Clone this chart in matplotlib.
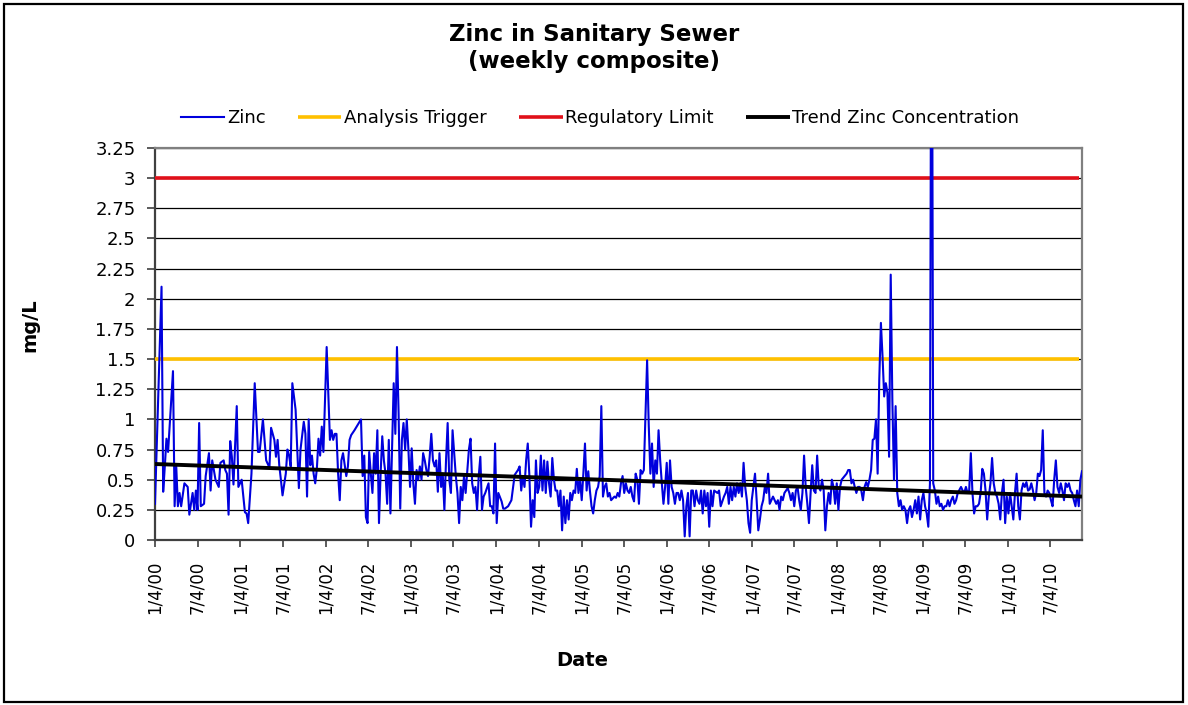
import numpy as np
import pandas as pd
import matplotlib
matplotlib.use("Agg")
import matplotlib.pyplot as plt
from matplotlib.patches import Rectangle

# ---------------- data ----------------
start_date = "2000-01-04"          # first weekly composite
end_week = 567                     # last week shown on the axis

# week index (weeks after start) and zinc concentration (mg/L), by period
weeks_a = [0, 4, 5, 6, 7, 8, 11, 12, 13, 14, 15, 16, 18, 20, 21, 23, 24, 25, 26, 27, 28, 30, 31,
           33, 34, 35, 37, 39, 40, 42, 43, 44, 45, 46, 47, 48, 50, 51, 53, 55, 56, 57, 59, 61,
           63, 64, 66, 68, 70]
zinc_a = [0.30, 2.10, 0.40, 0.61, 0.84, 0.73, 1.40, 0.28, 0.61, 0.28, 0.39, 0.28, 0.47, 0.44,
          0.21, 0.39, 0.25, 0.41, 0.25, 0.97, 0.28, 0.30, 0.53, 0.72, 0.41, 0.66, 0.50, 0.44,
          0.64, 0.66, 0.58, 0.55, 0.21, 0.82, 0.69, 0.46, 1.11, 0.44, 0.50, 0.23, 0.22, 0.14,
          0.55, 1.30, 0.73, 0.73, 1.00, 0.66, 0.60]

weeks_b = [71, 73, 74, 75, 76, 77, 78, 80, 81, 82, 83, 84, 86, 87, 88, 89, 91, 92, 93, 94, 95,
           96, 97, 98, 99, 100, 101, 102, 103, 105, 107, 108, 109, 110, 111, 112, 113, 114, 115,
           117, 118, 119, 120, 122, 126, 127, 128, 129, 130, 131, 132, 133, 134, 135, 136, 137, 138]
zinc_b = [0.93, 0.83, 0.69, 0.83, 0.62, 0.50, 0.37, 0.55, 0.75, 0.70, 0.61, 1.30, 1.08, 0.75,
          0.43, 0.75, 0.98, 0.88, 0.36, 1.00, 0.62, 0.70, 0.55, 0.47, 0.59, 0.84, 0.70, 0.94,
          0.73, 1.60, 0.83, 0.91, 0.83, 0.88, 0.88, 0.55, 0.33, 0.66, 0.72, 0.53, 0.61, 0.83,
          0.87, 0.91, 1.00, 0.53, 0.70, 0.19, 0.14, 0.73, 0.55, 0.39, 0.72, 0.55, 0.91, 0.14, 0.55]

weeks_c = (list(range(139, 145)) + list(range(146, 183)) + list(range(184, 191))
           + list(range(192, 203)) + list(range(204, 210)))
zinc_c = [0.86, 0.66, 0.55, 0.30, 0.83, 0.22, 1.30, 0.88, 1.60, 1.05, 0.26, 0.83, 0.97, 0.75,
          1.00, 0.75, 0.44, 0.76, 0.47, 0.30, 0.58, 0.50, 0.61, 0.50, 0.72, 0.66, 0.58, 0.53,
          0.69, 0.88, 0.66, 0.61, 0.66, 0.40, 0.72, 0.44, 0.55, 0.25, 0.66, 0.97, 0.50, 0.39,
          0.91, 0.53, 0.39, 0.14, 0.44, 0.33, 0.53, 0.39, 0.75, 0.84, 0.47, 0.39, 0.44, 0.25,
          0.53, 0.69, 0.25, 0.36, 0.39, 0.47, 0.28, 0.28, 0.22, 0.80, 0.14]

weeks_d = [210, 212, 213, 214, 216, 218, 220] + list(range(222, 280))
zinc_d = [0.39, 0.32, 0.26, 0.26, 0.28, 0.33, 0.54,
          0.58, 0.61, 0.41, 0.53, 0.44, 0.66, 0.80, 0.53, 0.11, 0.33, 0.19, 0.66, 0.39, 0.44,
          0.70, 0.41, 0.66, 0.39, 0.65, 0.47, 0.36, 0.68, 0.50, 0.41, 0.41, 0.28, 0.41, 0.08,
          0.36, 0.14, 0.33, 0.17, 0.39, 0.33, 0.41, 0.39, 0.59, 0.39, 0.50, 0.33, 0.55, 0.80,
          0.41, 0.57, 0.41, 0.28, 0.22, 0.33, 0.41, 0.44, 0.53, 1.11, 0.36, 0.44, 0.47, 0.36,
          0.39, 0.33]

weeks_e = list(range(281, 300)) + [301] + list(range(302, 343)) + [344, 345, 346, 348, 349, 350]
zinc_e = [0.36, 0.35, 0.39, 0.36, 0.47, 0.53, 0.39, 0.47, 0.41, 0.39, 0.44, 0.36, 0.32, 0.55,
          0.50, 0.30, 0.58, 0.55, 0.58,
          1.49,
          0.95, 0.55, 0.80, 0.44, 0.66, 0.55, 0.91, 0.66, 0.47, 0.30, 0.44, 0.64, 0.30, 0.66,
          0.44, 0.39, 0.30, 0.39, 0.39, 0.33, 0.41, 0.33, 0.03, 0.28, 0.39, 0.03, 0.41, 0.41,
          0.28, 0.41, 0.33, 0.30, 0.41, 0.22, 0.41, 0.28, 0.39, 0.11, 0.41, 0.28, 0.41,
          0.39, 0.41, 0.28, 0.36, 0.39, 0.44]

weeks_f = list(range(351, 377)) + list(range(378, 421))
zinc_f = [0.30, 0.44, 0.33, 0.44, 0.36, 0.47, 0.39, 0.47, 0.36, 0.64, 0.44, 0.33, 0.14, 0.06,
          0.33, 0.44, 0.55, 0.33, 0.08, 0.17, 0.28, 0.33, 0.44, 0.39, 0.55, 0.30,
          0.36, 0.33, 0.30, 0.33, 0.25, 0.36, 0.33, 0.39, 0.41, 0.43, 0.39, 0.33, 0.39, 0.28,
          0.41, 0.44, 0.33, 0.25, 0.39, 0.70, 0.44, 0.30, 0.14, 0.39, 0.62, 0.41, 0.39, 0.70,
          0.44, 0.41, 0.50, 0.41, 0.08, 0.28, 0.39, 0.30, 0.50, 0.44, 0.30, 0.47, 0.25, 0.44, 0.50]

weeks_g = list(range(423, 439)) + list(range(439, 475)) + [475] + list(range(476, 492))
zinc_g = [0.55, 0.58, 0.58, 0.47, 0.50, 0.44, 0.39, 0.44, 0.44, 0.41, 0.33, 0.44, 0.48, 0.44,
          0.50, 0.58,
          0.83, 0.84, 1.00, 0.55, 1.33, 1.80, 1.52, 1.19, 1.30, 1.22, 0.69, 2.20, 1.16, 0.50,
          1.11, 0.39, 0.28, 0.33, 0.25, 0.28, 0.25, 0.14, 0.25, 0.28, 0.19, 0.25, 0.33, 0.22,
          0.36, 0.17, 0.33, 0.39, 0.28, 0.22, 0.11, 0.47,
          6.00,
          0.47, 0.41, 0.30, 0.36, 0.28, 0.30, 0.25, 0.28, 0.28, 0.33, 0.28, 0.33, 0.36, 0.30,
          0.33, 0.39]

weeks_h = list(range(493, 568))
zinc_h = [0.44, 0.41, 0.39, 0.44, 0.39, 0.41, 0.72, 0.39, 0.22, 0.28,
          0.28, 0.30, 0.39, 0.59, 0.55, 0.41, 0.17, 0.36, 0.47, 0.68,
          0.47, 0.39, 0.36, 0.30, 0.17, 0.39, 0.50, 0.14, 0.36, 0.22,
          0.39, 0.28, 0.17, 0.39, 0.55, 0.28, 0.17, 0.41, 0.47, 0.44,
          0.48, 0.41, 0.42, 0.47, 0.41, 0.33, 0.39, 0.55, 0.53, 0.58,
          0.91, 0.39, 0.36, 0.41, 0.39, 0.33, 0.28, 0.50, 0.66, 0.44,
          0.39, 0.47, 0.41, 0.33, 0.47, 0.44, 0.47, 0.41, 0.39, 0.33,
          0.28, 0.41, 0.28, 0.50, 0.57]

# reference series
threshold_weeks = [0, 565]
analysis_trigger = [1.5, 1.5]
regulatory_limit = [3.0, 3.0]
trend_weeks = [0, 567]
trend_values = [0.63, 0.36]

title_lines = ["Zinc in Sanitary Sewer", "(weekly composite)"]
legend_labels = ["Zinc", "Analysis Trigger", "Regulatory Limit", "Trend Zinc Concentration"]
tick_years = list(range(2000, 2011))
y_ticks = [0, 0.25, 0.5, 0.75, 1, 1.25, 1.5, 1.75, 2, 2.25, 2.5, 2.75, 3, 3.25]

# ---------------- build ----------------
weeks = np.concatenate([weeks_a, weeks_b, weeks_c, weeks_d, weeks_e, weeks_f, weeks_g, weeks_h])
zinc = np.concatenate([zinc_a, zinc_b, zinc_c, zinc_d, zinc_e, zinc_f, zinc_g, zinc_h])
t0 = pd.Timestamp(start_date)


def to_dates(w):
    return t0 + pd.to_timedelta(np.asarray(w) * 7, unit="D")


dates = to_dates(weeks)

W, H = 1188, 705
fig = plt.figure(figsize=(W / 100, H / 100), dpi=100)
fig.patch.set_facecolor("white")

ax = fig.add_axes([155 / W, 1 - 540 / H, (1082 - 155) / W, (540 - 148) / H])

ax.plot(to_dates(threshold_weeks), analysis_trigger, color="#FFC000", lw=2.6,
        solid_capstyle="butt", zorder=3, label=legend_labels[1])
ax.plot(to_dates(threshold_weeks), regulatory_limit, color="#E0101A", lw=2.6,
        solid_capstyle="butt", zorder=3, label=legend_labels[2])
ax.plot(dates, zinc, color="#0000DD", lw=1.5, zorder=4, label=legend_labels[0])
ax.plot(to_dates(trend_weeks), trend_values, color="black", lw=2.8,
        solid_capstyle="butt", zorder=5, label=legend_labels[3])

ax.set_xlim(t0, to_dates([end_week])[0])
ax.set_ylim(0, 3.25)

tick_dates = []
for y in tick_years:
    tick_dates.append(pd.Timestamp(year=y, month=1, day=4))
    tick_dates.append(pd.Timestamp(year=y, month=7, day=4))
ax.set_xticks(tick_dates)
ax.set_xticklabels([f"{d.month}/{d.day}/{d.year % 100:02d}" for d in tick_dates],
                   rotation=90, fontsize=12)
ax.set_yticks(y_ticks)
ax.set_yticklabels([f"{v:g}" for v in y_ticks], fontsize=13)

ax.tick_params(axis="x", direction="out", length=5, width=1.2, pad=10, color="#404040")
ax.tick_params(axis="y", direction="out", length=6, width=1.2, pad=8, color="#404040")

ax.grid(axis="y", color="black", lw=0.9, zorder=1)
ax.set_axisbelow(True)
for side in ("top", "right"):
    ax.spines[side].set_color("#808080")
    ax.spines[side].set_linewidth(1.6)
for side in ("left", "bottom"):
    ax.spines[side].set_color("#404040")
    ax.spines[side].set_linewidth(1.6)

# titles & labels
fig.text(594 / W, 1 - 41 / H, title_lines[0], ha="center", va="baseline",
         fontsize=16.5, fontweight="bold")
fig.text(594 / W, 1 - 68 / H, title_lines[1], ha="center", va="baseline",
         fontsize=16.5, fontweight="bold")
fig.text(30 / W, 1 - 325 / H, "mg/L", rotation=90, ha="center", va="center",
         fontsize=14, fontweight="bold")
fig.text(582 / W, 1 - 660 / H, "Date", ha="center", va="center",
         fontsize=14, fontweight="bold")

handles, labels = ax.get_legend_handles_labels()
order = [labels.index(l) for l in legend_labels]
fig.legend([handles[i] for i in order], [labels[i] for i in order],
           loc="center", bbox_to_anchor=(600 / W, 1 - 118 / H), ncol=4, frameon=False,
           fontsize=13, handlelength=2.4, handletextpad=0.15, columnspacing=1.8,
           borderaxespad=0)

# outer chart border
fig.add_artist(Rectangle((4 / W, 3 / H), (1183 - 4) / W, (701 - 3) / H,
                         transform=fig.transFigure, fill=False, ec="black", lw=1.6))

fig.savefig("out.png", dpi=100)
